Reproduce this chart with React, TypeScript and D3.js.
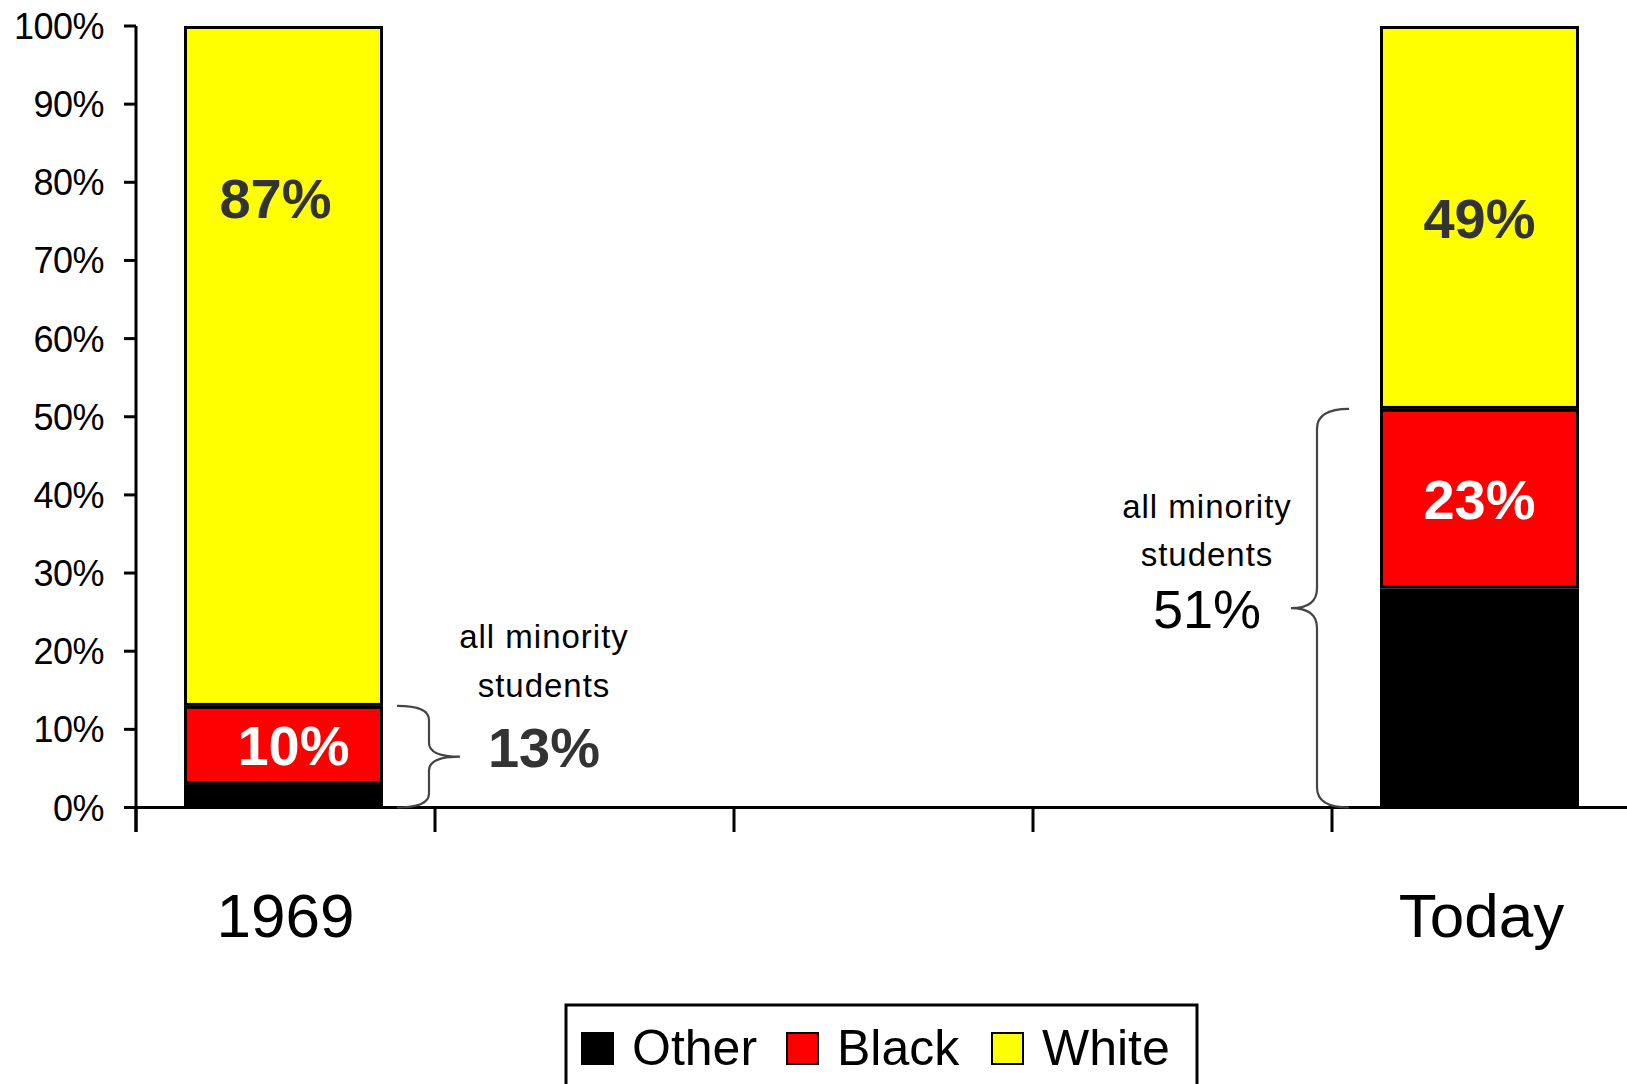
import React from "react";
import * as d3 from "d3";

// Category slots along the x axis (only the first and last carry bars)
const axisSlots = ["1969", "", "", "", "Today"];
const barSlots = [0, 4];
const barYears = ["1969", "Today"];

// Enrollment shares, percent
const otherPct = [3, 28];
const blackPct = [10, 23];
const whitePct = [87, 49];

const yTicks = [0, 10, 20, 30, 40, 50, 60, 70, 80, 90, 100];

const seriesKeys = ["Other", "Black", "White"];
const seriesColors: Record<string, string> = {
  Other: "#000000",
  Black: "#ff0000",
  White: "#ffff00",
};

const W = 1627;
const H = 1084;
const FONT = "Arial, 'Liberation Sans', Helvetica, sans-serif";

export default function App() {
  const y = d3.scaleLinear().domain([0, 100]).range([807.5, 26]);
  const x = d3
    .scaleBand<number>()
    .domain(d3.range(axisSlots.length))
    .range([136, 136 + 299 * axisSlots.length])
    .padding(0);
  const step = x.step();
  const barW = 199;

  const rows = barYears.map((year, i) => ({
    year,
    slot: barSlots[i],
    Other: otherPct[i],
    Black: blackPct[i],
    White: whitePct[i],
  }));
  const stacked = d3.stack<any>().keys(seriesKeys)(rows);

  const barX = (slot: number) => (x(slot) as number) + (step - barW) / 2 - 2;

  // bracket geometry per bar: offsets from the bar edge facing the bracket,
  // plus where the note text sits relative to the bracket tip
  const braces = [
    { side: 1, end: 14, spine: 46, tip: 77, r: 14, numDy: 10, l1: -119, l2: -70, bold: true },
    { side: -1, end: 31, spine: 63, tip: 89, r: 20, numDy: 20, l1: -110, l2: -62, bold: false },
  ];

  const sw = 3;

  const bracePath = (
    xEnd: number,
    xSpine: number,
    xTip: number,
    yTop: number,
    yBot: number,
    r: number
  ) => {
    const ym = (yTop + yBot) / 2;
    return `M${xEnd},${yTop} Q${xSpine},${yTop} ${xSpine},${yTop + r} L${xSpine},${ym - r} Q${xSpine},${ym} ${xTip},${ym} Q${xSpine},${ym} ${xSpine},${ym + r} L${xSpine},${yBot - r} Q${xSpine},${yBot} ${xEnd},${yBot}`;
  };

  // manual tweaks for the 1969 data labels
  const labelTweak: Record<string, { dx?: number; at?: number }> = {
    "1969-White": { dx: -8, at: 78 },
    "1969-Black": { dx: 10 },
  };

  return (
    <svg
      width={W}
      height={H}
      style={{ position: "absolute", left: 0, top: 0, background: "#fff" }}
      fontFamily={FONT}
    >
      <rect x={0} y={0} width={W} height={H} fill="#fff" />

      {/* bars */}
      {stacked.map((layer) =>
        layer.map((d, i) => {
          const bx = barX(rows[i].slot);
          const y1 = y(d[1]);
          const y0 = y(d[0]);
          return (
            <rect
              key={layer.key + i}
              x={bx + sw / 2}
              y={y1 + sw / 2}
              width={barW - sw}
              height={Math.max(0, y0 - y1 - sw)}
              fill={seriesColors[layer.key]}
              stroke="#000"
              strokeWidth={sw}
            />
          );
        })
      )}

      {/* data labels */}
      {stacked
        .filter((layer) => layer.key !== "Other")
        .map((layer) =>
          layer.map((d, i) => {
            const key = `${rows[i].year}-${layer.key}`;
            const tw = labelTweak[key] || {};
            const mid = tw.at !== undefined ? tw.at : (d[0] + d[1]) / 2;
            const cx = barX(rows[i].slot) + barW / 2 + (tw.dx || 0);
            const fs = 56;
            return (
              <text
                key={"lbl" + key}
                x={cx}
                y={y(mid) + fs * 0.36}
                textAnchor="middle"
                fontSize={fs}
                fontWeight="bold"
                fill={layer.key === "White" ? "#333333" : "#ffffff"}
              >
                {`${d[1] - d[0]}%`}
              </text>
            );
          })
        )}

      {/* y axis */}
      <line x1={136} x2={136} y1={y(100)} y2={832} stroke="#000" strokeWidth={3} />
      {yTicks.map((t) => (
        <g key={"yt" + t}>
          <line x1={124} x2={136} y1={y(t)} y2={y(t)} stroke="#000" strokeWidth={3} />
          <text
            x={104}
            y={y(t) + 13}
            textAnchor="end"
            fontSize={36}
            letterSpacing={-0.5}
            fill="#000"
          >
            {`${t}%`}
          </text>
        </g>
      ))}

      {/* x axis */}
      <line x1={136} x2={W} y1={y(0)} y2={y(0)} stroke="#000" strokeWidth={3} />
      {axisSlots.map((_, i) => (
        <line
          key={"xt" + i}
          x1={x(i) as number}
          x2={x(i) as number}
          y1={y(0)}
          y2={832}
          stroke="#000"
          strokeWidth={3}
        />
      ))}
      {axisSlots.map((lab, i) =>
        lab ? (
          <text
            key={"xl" + i}
            x={(x(i) as number) + step / 2}
            y={937}
            textAnchor="middle"
            fontSize={62}
            fill="#000"
          >
            {lab}
          </text>
        ) : null
      )}

      {/* minority brackets and notes */}
      {rows.map((r, i) => {
        const b = braces[i];
        const edge = b.side > 0 ? barX(r.slot) + barW : barX(r.slot);
        const xe = edge + b.side * b.end;
        const xs = edge + b.side * b.spine;
        const xt = edge + b.side * b.tip;
        const minority = r.Other + r.Black;
        const yTop = y(minority);
        const yBot = y(0);
        const ym = (yTop + yBot) / 2;
        const cx = xt + b.side * 84;
        const base = ym + b.numDy;
        return (
          <g key={"br" + i}>
            <path
              d={bracePath(xe, xs, xt, yTop, yBot, b.r)}
              fill="none"
              stroke="#444"
              strokeWidth={2.2}
            />
            <text x={cx} y={base + b.l1} textAnchor="middle" fontSize={33} letterSpacing={1} fill="#000">
              all minority
            </text>
            <text x={cx} y={base + b.l2} textAnchor="middle" fontSize={33} letterSpacing={1} fill="#000">
              students
            </text>
            <text
              x={cx}
              y={base}
              textAnchor="middle"
              fontSize={b.bold ? 56 : 54}
              fontWeight={b.bold ? "bold" : "normal"}
              fill={b.bold ? "#333333" : "#000000"}
            >
              {`${minority}%`}
            </text>
          </g>
        );
      })}

      {/* legend */}
      <rect x={566} y={1005} width={631} height={110} fill="#fff" stroke="#000" strokeWidth={3} />
      {seriesKeys.map((k, i) => {
        const lx = 582 + i * 205;
        return (
          <g key={"lg" + k}>
            <rect
              x={lx}
              y={1033}
              width={31}
              height={31}
              fill={seriesColors[k]}
              stroke="#000"
              strokeWidth={2}
            />
            <text x={lx + 50} y={1065} fontSize={50} fill="#000">
              {k}
            </text>
          </g>
        );
      })}
    </svg>
  );
}
